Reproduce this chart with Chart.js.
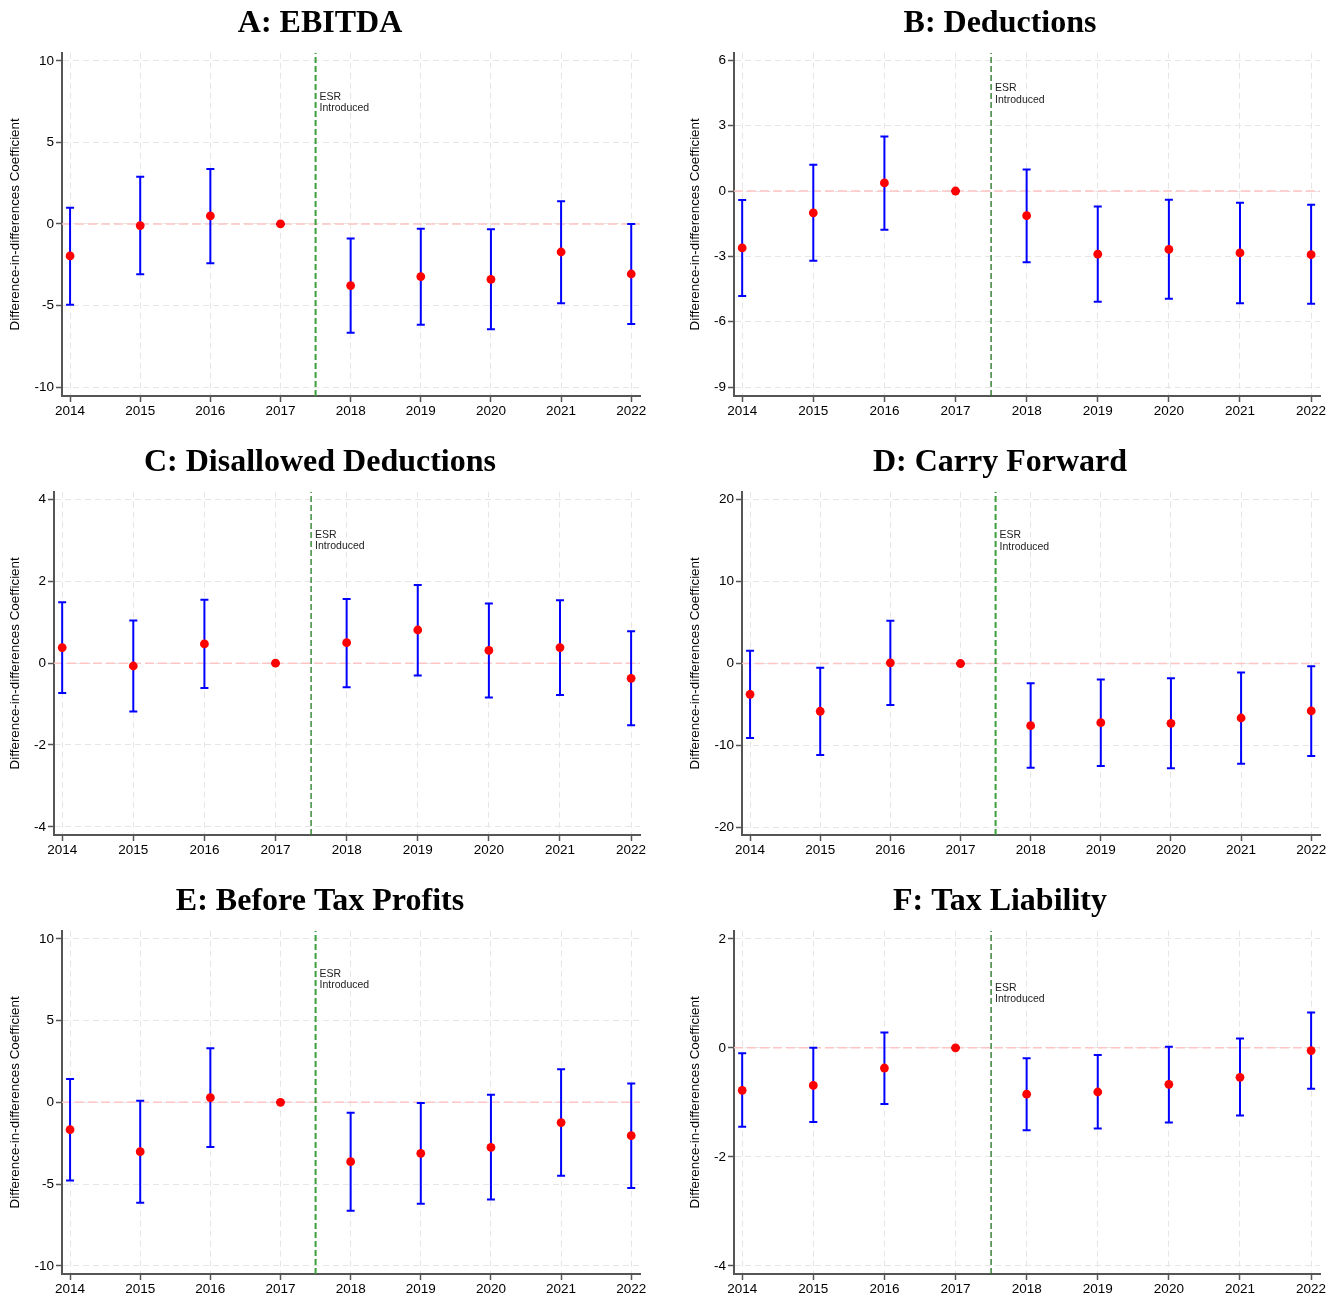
<!DOCTYPE html>
<html><head><meta charset="utf-8">
<script src="https://cdn.jsdelivr.net/npm/chart.js@4.4.1/dist/chart.umd.min.js"></script>
<style>
html,body{margin:0;padding:0;background:#fff;}
body{width:1339px;height:1295px;position:relative;overflow:hidden;}
canvas{position:absolute;}
</style></head><body>
<canvas id="cA" width="649" height="424" style="left:0px;top:0px"></canvas>
<canvas id="cB" width="649" height="424" style="left:680px;top:0px"></canvas>
<canvas id="cC" width="649" height="424" style="left:0px;top:439px"></canvas>
<canvas id="cD" width="649" height="424" style="left:680px;top:439px"></canvas>
<canvas id="cE" width="649" height="424" style="left:0px;top:878px"></canvas>
<canvas id="cF" width="649" height="424" style="left:680px;top:878px"></canvas>
<script>
// ---------------- DATA ----------------
const years = [2014, 2015, 2016, 2017, 2018, 2019, 2020, 2021, 2022];
const eventYear = 2017.5;
const eventLabel = ['ESR', 'Introduced'];
const yAxisTitle = 'Difference-in-differences Coefficient';

const titles = ['A: EBITDA', 'B: Deductions', 'C: Disallowed Deductions', 'D: Carry Forward', 'E: Before Tax Profits', 'F: Tax Liability'];

const ebitdaCoef = [-1.96, -0.10, 0.49, 0, -3.78, -3.23, -3.40, -1.72, -3.07];
const ebitdaLow  = [-4.95, -3.09, -2.41, 0, -6.67, -6.18, -6.46, -4.86, -6.14];
const ebitdaHigh = [1.00, 2.90, 3.37, 0, -0.90, -0.29, -0.33, 1.39, 0.00];
const ebitdaTicks = [-10, -5, 0, 5, 10];

const deductCoef = [-2.61, -1.00, 0.37, 0, -1.13, -2.90, -2.68, -2.84, -2.92];
const deductLow  = [-4.82, -3.20, -1.78, 0, -3.27, -5.08, -4.94, -5.15, -5.18];
const deductHigh = [-0.41, 1.21, 2.50, 0, 0.99, -0.71, -0.40, -0.54, -0.63];
const deductTicks = [-9, -6, -3, 0, 3, 6];

const disallowCoef = [0.38, -0.07, 0.47, 0, 0.50, 0.81, 0.31, 0.38, -0.37];
const disallowLow  = [-0.73, -1.18, -0.61, 0, -0.59, -0.30, -0.84, -0.78, -1.52];
const disallowHigh = [1.49, 1.04, 1.55, 0, 1.57, 1.91, 1.46, 1.54, 0.78];
const disallowTicks = [-4, -2, 0, 2, 4];

const carryCoef = [-3.75, -5.82, 0.08, 0, -7.58, -7.21, -7.29, -6.64, -5.78];
const carryLow  = [-9.08, -11.16, -5.05, 0, -12.71, -12.50, -12.75, -12.22, -11.28];
const carryHigh = [1.55, -0.53, 5.21, 0, -2.40, -1.96, -1.79, -1.10, -0.33];
const carryTicks = [-20, -10, 0, 10, 20];

const profitCoef = [-1.67, -3.02, 0.29, 0, -3.63, -3.12, -2.76, -1.24, -2.04];
const profitLow  = [-4.78, -6.14, -2.73, 0, -6.63, -6.20, -5.94, -4.49, -5.24];
const profitHigh = [1.43, 0.10, 3.31, 0, -0.63, -0.04, 0.47, 2.02, 1.16];
const profitTicks = [-10, -5, 0, 5, 10];

const taxCoef = [-0.78, -0.69, -0.37, 0, -0.85, -0.81, -0.67, -0.54, -0.05];
const taxLow  = [-1.45, -1.36, -1.03, 0, -1.51, -1.48, -1.37, -1.24, -0.75];
const taxHigh = [-0.10, 0.00, 0.28, 0, -0.19, -0.13, 0.02, 0.17, 0.65];
const taxTicks = [-4, -2, 0, 2];

// ---------------- LAYOUT / STYLE ----------------
const xRange = [2013.885, 2022.125];
const panels = [
  {id:'cA', title:titles[0], coef:ebitdaCoef, low:ebitdaLow, high:ebitdaHigh, ticks:ebitdaTicks, yMin:-10.55, yMax:10.5, labelY:7.8, axisW:62, green:'#3a9e3a', greenW:2},
  {id:'cB', title:titles[1], coef:deductCoef, low:deductLow, high:deductHigh, ticks:deductTicks, yMin:-9.41, yMax:6.35, labelY:4.72, axisW:54, green:'#1f6f1f', greenW:1.3},
  {id:'cC', title:titles[2], coef:disallowCoef, low:disallowLow, high:disallowHigh, ticks:disallowTicks, yMin:-4.2, yMax:4.19, labelY:3.13, axisW:54, green:'#1f7a1f', greenW:1.3},
  {id:'cD', title:titles[3], coef:carryCoef, low:carryLow, high:carryHigh, ticks:carryTicks, yMin:-20.9, yMax:20.94, labelY:15.6, axisW:62, green:'#3a9e3a', greenW:2},
  {id:'cE', title:titles[4], coef:profitCoef, low:profitLow, high:profitHigh, ticks:profitTicks, yMin:-10.5, yMax:10.5, labelY:7.86, axisW:62, green:'#3a9e3a', greenW:2},
  {id:'cF', title:titles[5], coef:taxCoef, low:taxLow, high:taxHigh, ticks:taxTicks, yMin:-4.15, yMax:2.15, labelY:1.1, axisW:54, green:'#1f6f1f', greenW:1.3}
];

const SANS = "'Liberation Sans', Arial, sans-serif";
const SERIF = "'Liberation Serif', 'Times New Roman', serif";

const eventLabelPlugin = {
  id: 'eventLabel',
  afterDatasetsDraw(chart, args, opts) {
    const {ctx, scales} = chart;
    const x = scales.x.getPixelForValue(eventYear) + 4;
    const y = scales.y.getPixelForValue(opts.labelY);
    ctx.save();
    ctx.font = '10.5px ' + SANS;
    ctx.fillStyle = '#222';
    ctx.textAlign = 'left';
    ctx.textBaseline = 'middle';
    eventLabel.forEach((t, i) => ctx.fillText(t, x, y + i * 11.5));
    ctx.restore();
  }
};

panels.forEach(p => {
  const bars = [];
  years.forEach((yr, i) => {
    bars.push({x: yr, y: p.low[i]});
    bars.push({x: yr, y: p.high[i]});
    bars.push({x: yr, y: null});
  });
  const points = years.map((yr, i) => ({x: yr, y: p.coef[i]}));

  new Chart(document.getElementById(p.id), {
    type: 'line',
    data: {
      datasets: [
        {data: points, showLine: false, pointRadius: 4.4, pointHoverRadius: 4.4,
         pointBackgroundColor: '#ff0000', pointBorderColor: '#ff0000', pointBorderWidth: 0, order: 0},
        {data: bars, spanGaps: false, borderColor: '#0000ff', borderWidth: 2,
         pointStyle: 'line', pointRadius: 4, pointHoverRadius: 4, pointBorderColor: '#0000ff',
         pointBorderWidth: 2, order: 1},
        {data: [{x: eventYear, y: p.yMin}, {x: eventYear, y: p.yMax}], borderColor: p.green,
         borderWidth: p.greenW, borderDash: [6, 3], pointRadius: 0, order: 2},
        {data: [{x: xRange[0], y: 0}, {x: xRange[1], y: 0}], borderColor: '#ffc4c4',
         borderWidth: 1.5, borderDash: [9, 4], pointRadius: 0, order: 3}
      ]
    },
    options: {
      responsive: false,
      animation: false,
      events: [],
      layout: {padding: {left: 0, right: 9, top: 0, bottom: 0}},
      plugins: {
        legend: {display: false},
        tooltip: {enabled: false},
        title: {display: true, text: p.title, color: '#000',
                font: {family: SERIF, size: 32, weight: 'bold'},
                padding: {top: 5, bottom: 9.3}},
        eventLabel: {labelY: p.labelY}
      },
      scales: {
        x: {
          type: 'linear', min: xRange[0], max: xRange[1],
          afterBuildTicks: s => { s.ticks = years.map(v => ({value: v})); },
          afterFit: s => { s.height = 28; },
          ticks: {autoSkip: false, maxRotation: 0, color: '#000', padding: 1,
                  font: {family: SANS, size: 13.5}, callback: v => String(v)},
          grid: {color: '#e6e6e6', lineWidth: 1, tickColor: '#555', tickLength: 6, tickWidth: 1.5},
          border: {color: '#555', width: 2, dash: [6, 4]}
        },
        y: {
          type: 'linear', min: p.yMin, max: p.yMax,
          afterBuildTicks: s => { s.ticks = p.ticks.map(v => ({value: v})); },
          afterFit: s => { s.width = p.axisW; },
          ticks: {color: '#000', padding: 2, font: {family: SANS, size: 13.5}, callback: v => String(v)},
          grid: {color: '#e6e6e6', lineWidth: 1, tickColor: '#555', tickLength: 6, tickWidth: 1.5},
          border: {color: '#555', width: 2, dash: [6, 4]},
          title: {display: true, text: yAxisTitle, color: '#000',
                  font: {family: SANS, size: 13.4}, padding: {top: 7, bottom: 0}}
        }
      }
    },
    plugins: [eventLabelPlugin]
  });
});
</script>
</body></html>
